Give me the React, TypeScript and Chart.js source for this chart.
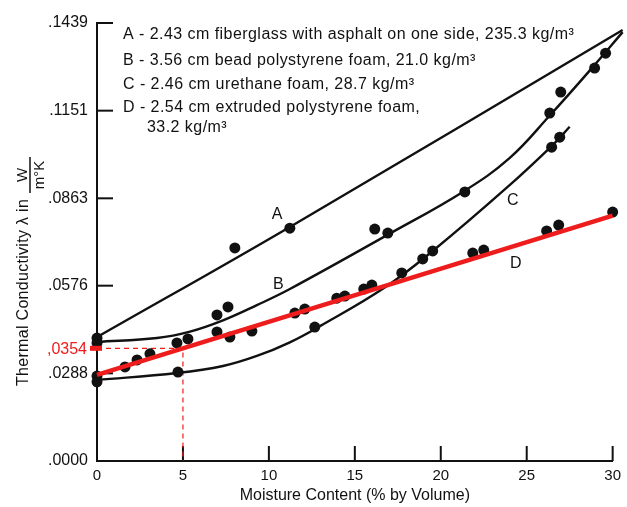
import { useEffect, useRef } from "react";
import { Chart, registerables } from "chart.js";

Chart.register(...registerables);

// ---------- data ----------
const X_TICKS = [0, 5, 10, 15, 20, 25, 30];
const Y_TICK_VALUES = [0, 0.0288, 0.0576, 0.0863, 0.1151, 0.1439];
const Y_TICK_LABELS = [".0000", ".0288", ".0576", ".0863", ".1151", ".1439"];

const X_TITLE = "Moisture Content (% by Volume)";
const Y_TITLE = "Thermal Conductivity \u03bb in";
const Y_UNIT_NUM = "W";
const Y_UNIT_DEN = "m\u00b0K";

const LEGEND_LINES = [
  "A - 2.43 cm fiberglass with asphalt on one side, 235.3 kg/m\u00b3",
  "B - 3.56 cm bead polystyrene foam, 21.0 kg/m\u00b3",
  "C - 2.46 cm urethane foam, 28.7 kg/m\u00b3",
  "D - 2.54 cm extruded polystyrene foam,",
  "33.2 kg/m\u00b3",
];

// measured points [moisture %, conductivity]
const A_DOTS: [number, number][] = [
  [0, 0.0404], [8.02, 0.07], [11.22, 0.0765], [30.58, 0.1416],
];
const B_DOTS: [number, number][] = [
  [0, 0.0388], [6.98, 0.048], [7.62, 0.0506], [16.16, 0.0762], [16.92, 0.0749],
  [21.4, 0.0884], [26.34, 0.1143], [26.98, 0.1212], [28.95, 0.1291], [29.59, 0.134],
];
const C_DOTS: [number, number][] = [
  [0, 0.026], [4.71, 0.0292], [12.67, 0.044], [17.73, 0.0618], [18.95, 0.0664],
  [19.53, 0.069], [26.45, 0.1031], [26.92, 0.1064],
];
const D_DOTS: [number, number][] = [
  [0, 0.0279], [1.63, 0.0309], [2.33, 0.0332], [3.08, 0.0352], [4.65, 0.0388],
  [5.29, 0.0401], [6.98, 0.0424], [7.73, 0.0407], [9.01, 0.0427], [11.51, 0.0486],
  [12.09, 0.0499], [13.95, 0.0535], [14.42, 0.0542], [15.52, 0.0565], [15.99, 0.0578],
  [21.86, 0.0683], [22.5, 0.0693], [26.16, 0.0756], [26.86, 0.0775], [30.0, 0.0818],
  [30.47, 0.0841],
];

// hand-drawn fit curves
const A_CURVE: [number, number][] = [[0, 0.0407], [11.22, 0.0769], [30.58, 0.1416]];
const B_CURVE: [number, number][] = [
  [0, 0.0391], [3.49, 0.0404], [5.41, 0.0425], [7.33, 0.0462], [9.3, 0.0512],
  [11.22, 0.0565], [17.03, 0.0747], [21.28, 0.0884], [24.0, 0.0995], [26.34, 0.1135],
  [28.84, 0.1294], [30.58, 0.1409],
];
const C_CURVE: [number, number][] = [
  [0, 0.0266], [4.65, 0.0289], [7.33, 0.0312], [9.3, 0.0345], [11.22, 0.0390],
  [12.97, 0.0443], [16.74, 0.0570], [19.53, 0.0690], [23.84, 0.0898], [26.51, 0.1038],
  [27.5, 0.1098],
];
const D_FIT: [number, number][] = [[0, 0.0283], [30, 0.0806]];

const CURVE_LETTERS: [string, number, number][] = [
  ["A", 10.47, 0.0808],
  ["B", 10.55, 0.0578],
  ["C", 24.19, 0.0857],
  ["D", 24.36, 0.0647],
];

const MARK_X = 5;
const MARK_LABEL = ",0354";

// ---------- styling ----------
const FONT = "'Liberation Sans', Arial, sans-serif";
const INK = "#111111";
const RED = "#ee1c1c";

const toXY = (arr: [number, number][]) => arr.map(([x, y]) => ({ x, y }));

function fitAt(x: number) {
  const [[x0, y0], [x1, y1]] = D_FIT;
  return y0 + ((y1 - y0) * (x - x0)) / (x1 - x0);
}

const overlay = {
  id: "overlay",
  beforeDatasetsDraw(chart: any) {
    const { ctx, chartArea } = chart;
    const xs = chart.scales.x;
    const ys = chart.scales.y;
    ctx.save();
    // inward tick marks
    ctx.strokeStyle = INK;
    ctx.lineWidth = 2;
    Y_TICK_VALUES.forEach((v) => {
      if (v === 0) return;
      const py = ys.getPixelForValue(v);
      ctx.beginPath();
      ctx.moveTo(chartArea.left, py);
      ctx.lineTo(chartArea.left + 16, py);
      ctx.stroke();
    });
    X_TICKS.forEach((v) => {
      if (v === 0) return;
      const px = xs.getPixelForValue(v);
      ctx.beginPath();
      ctx.moveTo(px, chartArea.bottom);
      ctx.lineTo(px, chartArea.bottom - 15);
      ctx.stroke();
    });
    // red dashed reading lines
    const mx = xs.getPixelForValue(MARK_X);
    const my = ys.getPixelForValue(fitAt(MARK_X));
    ctx.strokeStyle = RED;
    ctx.lineWidth = 1.2;
    ctx.setLineDash([5, 4]);
    ctx.beginPath();
    ctx.moveTo(chartArea.left, my);
    ctx.lineTo(mx, my);
    ctx.lineTo(mx, chartArea.bottom);
    ctx.stroke();
    ctx.setLineDash([]);
    ctx.restore();
  },
  afterDraw(chart: any) {
    const { ctx, chartArea } = chart;
    const xs = chart.scales.x;
    const ys = chart.scales.y;
    ctx.save();
    // red marker on axis
    const my = ys.getPixelForValue(fitAt(MARK_X));
    ctx.fillStyle = RED;
    ctx.fillRect(chartArea.left - 7, my - 2.5, 12, 5);
    ctx.font = `16px ${FONT}`;
    ctx.textAlign = "right";
    ctx.textBaseline = "middle";
    ctx.fillText(MARK_LABEL, chartArea.left - 10, my + 1);

    // legend block
    ctx.fillStyle = INK;
    ctx.textAlign = "left";
    ctx.textBaseline = "middle";
    ctx.font = `16px ${FONT}`;
    (ctx as any).letterSpacing = "0.45px";
    const legendY = [35, 61, 85, 108, 128];
    LEGEND_LINES.forEach((t, i) => {
      const x = i === LEGEND_LINES.length - 1 ? 147 : 123;
      ctx.fillText(t, x, legendY[i]);
    });
    (ctx as any).letterSpacing = "0px";

    // curve letters
    ctx.textAlign = "center";
    ctx.font = `16px ${FONT}`;
    CURVE_LETTERS.forEach(([t, x, y]) => {
      ctx.fillText(t, xs.getPixelForValue(x), ys.getPixelForValue(y));
    });

    // x title
    ctx.font = `16px ${FONT}`;
    ctx.textAlign = "center";
    ctx.textBaseline = "middle";
    ctx.fillText(X_TITLE, (chartArea.left + chartArea.right) / 2, 496);

    // y title (rotated) with fraction
    ctx.rotate(-Math.PI / 2);
    ctx.font = `16px ${FONT}`;
    (ctx as any).letterSpacing = "0.3px";
    ctx.textAlign = "left";
    ctx.textBaseline = "alphabetic";
    const startY = 386;
    ctx.fillText(Y_TITLE, -startY, 28);
    (ctx as any).letterSpacing = "0px";
    const w = ctx.measureText(Y_TITLE).width + 0.3 * Y_TITLE.length;
    const endY = startY - w;
    const fracLen = 36;
    const fc = endY - 6 - fracLen / 2;
    ctx.lineWidth = 1.5;
    ctx.strokeStyle = INK;
    ctx.beginPath();
    ctx.moveTo(-(fc + fracLen / 2), 30);
    ctx.lineTo(-(fc - fracLen / 2), 30);
    ctx.stroke();
    ctx.textAlign = "center";
    ctx.font = `15px ${FONT}`;
    ctx.textBaseline = "alphabetic";
    ctx.fillText(Y_UNIT_NUM, -fc, 27);
    ctx.textBaseline = "top";
    ctx.fillText(Y_UNIT_DEN, -fc, 32);
    ctx.restore();
  },
};

export default function App() {
  const ref = useRef<HTMLCanvasElement>(null);
  useEffect(() => {
    const dotStyle = {
      showLine: false,
      pointRadius: 5.5,
      pointHoverRadius: 5.5,
      pointBackgroundColor: INK,
      pointBorderWidth: 0,
      clip: false as any,
      order: 1,
    };
    const curveStyle = {
      borderColor: INK,
      borderWidth: 2.4,
      pointRadius: 0,
      tension: 0.4,
      fill: false,
      clip: false as any,
      order: 2,
    };
    const chart = new Chart(ref.current!, {
      type: "line",
      data: {
        datasets: [
          { label: "D fit", data: toXY(D_FIT), borderColor: RED, borderWidth: 4.5, pointRadius: 0, fill: false, clip: false as any, order: 0 },
          { label: "A", data: toXY(A_DOTS), ...dotStyle },
          { label: "B", data: toXY(B_DOTS), ...dotStyle },
          { label: "C", data: toXY(C_DOTS), ...dotStyle },
          { label: "D", data: toXY(D_DOTS), ...dotStyle },
          { label: "A curve", data: toXY(A_CURVE), ...curveStyle },
          { label: "B curve", data: toXY(B_CURVE), ...curveStyle },
          { label: "C curve", data: toXY(C_CURVE), ...curveStyle },
        ],
      },
      options: {
        animation: false,
        responsive: false,
        events: [],
        layout: { padding: { top: 23, right: 14, left: 0, bottom: 0 } },
        plugins: { legend: { display: false }, tooltip: { enabled: false }, title: { display: false } },
        scales: {
          x: {
            type: "linear",
            min: 0,
            max: 30,
            afterFit: (s: any) => { s.height = 46; },
            afterBuildTicks: (s: any) => { s.ticks = X_TICKS.map((v) => ({ value: v })); },
            ticks: { font: { family: FONT, size: 15 }, color: INK, padding: 6, maxRotation: 0, callback: (v: any) => String(v) },
            grid: { display: false, drawTicks: false },
            border: { display: true, color: INK, width: 2 },
          },
          y: {
            type: "linear",
            min: 0,
            max: 0.1439,
            afterFit: (s: any) => { s.width = 97; },
            afterBuildTicks: (s: any) => { s.ticks = Y_TICK_VALUES.map((v) => ({ value: v })); },
            ticks: {
              font: { family: FONT, size: 16 },
              color: INK,
              padding: 9,
              callback: (v: any) => {
                const i = Y_TICK_VALUES.findIndex((t) => Math.abs(t - v) < 1e-7);
                return i >= 0 ? Y_TICK_LABELS[i] : "";
              },
            },
            grid: { display: false, drawTicks: false },
            border: { display: true, color: INK, width: 2 },
          },
        },
      },
      plugins: [overlay],
    });
    return () => chart.destroy();
  }, []);
  return (
    <div style={{ position: "fixed", left: 0, top: 0, width: 627, height: 507, background: "#fff" }}>
      <canvas ref={ref} width={627} height={507} style={{ width: 627, height: 507, display: "block" }} />
    </div>
  );
}
